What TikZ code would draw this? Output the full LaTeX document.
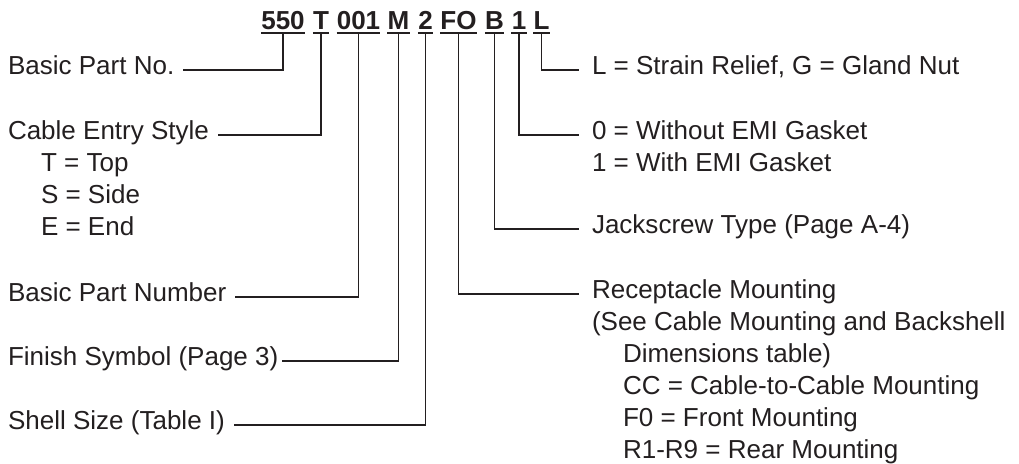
\documentclass[tikz,border=0pt]{standalone}
\usepackage{fontspec}
\setmainfont{Liberation Sans}
\usepackage{tikz}
\definecolor{PartInk}{HTML}{231F20}

\begin{document}
\begin{tikzpicture}[
    x=0.025cm, y=-0.025cm,
    code/.style={font=\fontsize{18.5}{22}\selectfont\bfseries, text=PartInk, anchor=base, inner xsep=0pt, inner ysep=0.06cm, text depth=0pt},
    lefttag/.style={font=\fontsize{18.5}{22}\selectfont, text=PartInk, anchor=west, inner sep=0pt, outer xsep=0.225cm, text height=0.8em, text depth=0.2em},
    righttag/.style={lefttag, outer xsep=0.325cm},
    note/.style={lefttag, outer xsep=0pt},
    lead/.style={draw=PartInk, line width=1.2pt},
    underline/.style={draw=PartInk, line width=1.4pt}
]
    \useasboundingbox (0,0) rectangle (1019,464);

    % Part number code
    \node[code] (c550) at (283,30) {550};
    \node[code] (cT) at (321,30) {T};
    \node[code] (c001) at (358.5,30) {001};
    \node[code] (cM) at (398.5,30) {M};
    \node[code] (c2) at (425.5,30) {2};
    \node[code] (cFO) at (458.5,30) {FO};
    \node[code] (cB) at (494.5,30) {B};
    \node[code] (c1) at (519,30) {1};
    \node[code] (cL) at (541.5,30) {L};
    \foreach \t in {c550,cT,c001,cM,c2,cFO,cB,c1,cL}
        \draw[underline] (\t.south west) -- (\t.south east);

    % Left column
    \node[lefttag] (lBasicNo) at (-1,70) {Basic Part No.};
    \node[lefttag] (lEntry) at (-1,135) {Cable Entry Style};
    \node[note] (lTop) at (41,167) {T = Top};
    \node[note] (lSide) at (41,199) {S = Side};
    \node[note] (lEnd) at (41,231) {E = End};
    \node[lefttag] (lNumber) at (-1,297) {Basic Part Number};
    \node[lefttag, outer xsep=0.1cm] (lFinish) at (4,361) {Finish Symbol (Page 3)};
    \node[lefttag] (lShell) at (-1,425) {Shell Size (Table I)};

    % Right column
    \node[righttag] (rStrain) at (579,70) {L = Strain Relief, G = Gland Nut};
    \node[righttag] (rGasket) at (579,135) {0 = Without EMI Gasket};
    \node[note] (rWith) at (592,167) {1 = With EMI Gasket};
    \node[righttag] (rJack) at (579,229) {Jackscrew Type (Page A-4)};
    \node[righttag] (rMount) at (579,294) {Receptacle Mounting};
    \node[note] (rSee) at (592,326) {(See Cable Mounting and Backshell};
    \node[note] (rTable) at (623,358) {Dimensions table)};
    \node[note] (rCC) at (623,390) {CC = Cable-to-Cable Mounting};
    \node[note] (rF0) at (623,422) {F0 = Front Mounting};
    \node[note] (rRear) at (623,454) {R1-R9 = Rear Mounting};

    % Leaders
    \draw[lead] (c550.south) |- (lBasicNo.east);
    \draw[lead] (cT.south) |- (lEntry.east);
    \draw[lead] (c001.south) |- (lNumber.east);
    \draw[lead] (cM.south) |- (lFinish.east);
    \draw[lead] (c2.south) |- (lShell.east);
    \draw[lead] (cL.south) |- (rStrain.west);
    \draw[lead] (c1.south) |- (rGasket.west);
    \draw[lead] (cB.south) |- (rJack.west);
    \draw[lead] (cFO.south) |- (rMount.west);
\end{tikzpicture}
\end{document}
